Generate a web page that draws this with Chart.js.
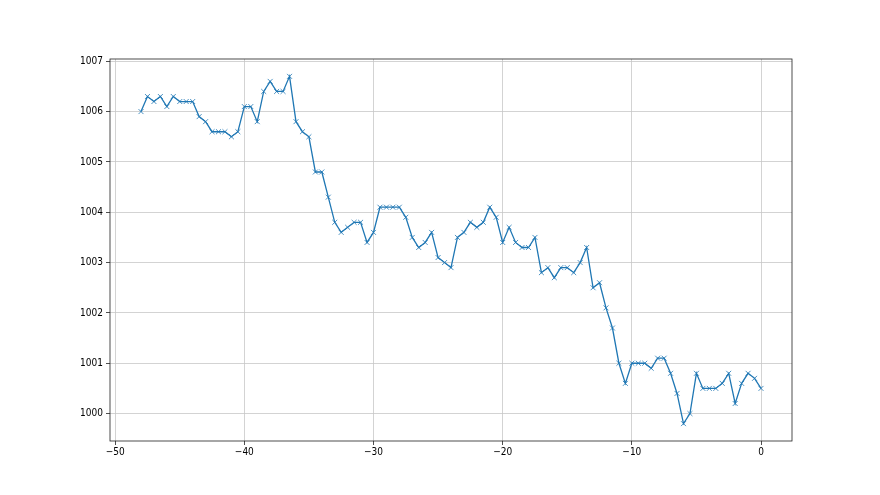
<!DOCTYPE html>
<html><head><meta charset="utf-8">
<script src="https://cdn.jsdelivr.net/npm/chart.js@4/dist/chart.umd.min.js"></script>
<style>html,body{margin:0;padding:0;background:#fff}canvas{display:block}</style>
</head><body>
<canvas id="c" width="880" height="495"></canvas>
<script>
const xValues = [-48,-47.5,-47,-46.5,-46,-45.5,-45,-44.5,-44,-43.5,-43,-42.5,-42,-41.5,-41,-40.5,-40,-39.5,-39,-38.5,-38,-37.5,-37,-36.5,-36,-35.5,-35,-34.5,-34,-33.5,-33,-32.5,-32,-31.5,-31,-30.5,-30,-29.5,-29,-28.5,-28,-27.5,-27,-26.5,-26,-25.5,-25,-24.5,-24,-23.5,-23,-22.5,-22,-21.5,-21,-20.5,-20,-19.5,-19,-18.5,-18,-17.5,-17,-16.5,-16,-15.5,-15,-14.5,-14,-13.5,-13,-12.5,-12,-11.5,-11,-10.5,-10,-9.5,-9,-8.5,-8,-7.5,-7,-6.5,-6,-5.5,-5,-4.5,-4,-3.5,-3,-2.5,-2,-1.5,-1,-0.5,0];
const pressure = [1006.0,1006.3,1006.2,1006.3,1006.1,1006.3,1006.2,1006.2,1006.2,1005.9,1005.8,1005.6,1005.6,1005.6,1005.5,1005.6,1006.1,1006.1,1005.8,1006.4,1006.6,1006.4,1006.4,1006.7,1005.8,1005.6,1005.5,1004.8,1004.8,1004.3,1003.8,1003.6,1003.7,1003.8,1003.8,1003.4,1003.6,1004.1,1004.1,1004.1,1004.1,1003.9,1003.5,1003.3,1003.4,1003.6,1003.1,1003.0,1002.9,1003.5,1003.6,1003.8,1003.7,1003.8,1004.1,1003.9,1003.4,1003.7,1003.4,1003.3,1003.3,1003.5,1002.8,1002.9,1002.7,1002.9,1002.9,1002.8,1003.0,1003.3,1002.5,1002.6,1002.1,1001.7,1001.0,1000.6,1001.0,1001.0,1001.0,1000.9,1001.1,1001.1,1000.8,1000.4,999.8,1000.0,1000.8,1000.5,1000.5,1000.5,1000.6,1000.8,1000.2,1000.6,1000.8,1000.7,1000.5];
const xTicks = [-50,-40,-30,-20,-10,0];
const yTicks = [1000,1001,1002,1003,1004,1005,1006,1007];

const font = {family: "'Liberation Sans Narrow','DejaVu Sans Condensed','DejaVu Sans',sans-serif", size: 10};
const fmt = v => String(v).replace('-', '\u2212');
const framePlugin = {
  id: 'frame',
  afterDraw(chart) {
    const a = chart.chartArea, ctx = chart.ctx;
    ctx.save();
    ctx.strokeStyle = '#222';
    ctx.lineWidth = 0.8;
    ctx.strokeRect(a.left, a.top, a.right - a.left, a.bottom - a.top);
    ctx.restore();
  }
};
new Chart(document.getElementById('c'), {
  type: 'line',
  data: {
    datasets: [{
      data: xValues.map((x, i) => ({x: x, y: pressure[i]})),
      borderColor: '#1f77b4',
      backgroundColor: '#1f77b4',
      borderWidth: 1.3,
      pointStyle: 'crossRot',
      pointRadius: 3.5,
      pointBorderWidth: 1,
      pointBorderColor: 'rgba(31,119,180,0.8)',
      tension: 0,
      fill: false
    }]
  },
  options: {
    responsive: false,
    animation: false,
    devicePixelRatio: 1,
    layout: {padding: {left: 0, right: 88, top: 59, bottom: 0}},
    plugins: {legend: {display: false}, tooltip: {enabled: false}},
    scales: {
      x: {
        type: 'linear',
        min: -50.4, max: 2.4,
        afterBuildTicks(s) { s.ticks = xTicks.map(v => ({value: v})); },
        afterFit(s) { s.height = 54; },
        grid: {color: '#c8c8c8', lineWidth: 0.8, tickColor: '#222', tickLength: 4},
        border: {display: false},
        ticks: {color: '#000', font: font, padding: 1, maxRotation: 0, autoSkip: false, callback: fmt}
      },
      y: {
        type: 'linear',
        min: 999.455, max: 1007.045,
        afterBuildTicks(s) { s.ticks = yTicks.map(v => ({value: v})); },
        afterFit(s) { s.width = 110; },
        grid: {color: '#c8c8c8', lineWidth: 0.8, tickColor: '#222', tickLength: 4},
        border: {display: false},
        ticks: {color: '#000', font: font, padding: 3, autoSkip: false, callback: fmt}
      }
    }
  },
  plugins: [framePlugin]
});
</script>
</body></html>
